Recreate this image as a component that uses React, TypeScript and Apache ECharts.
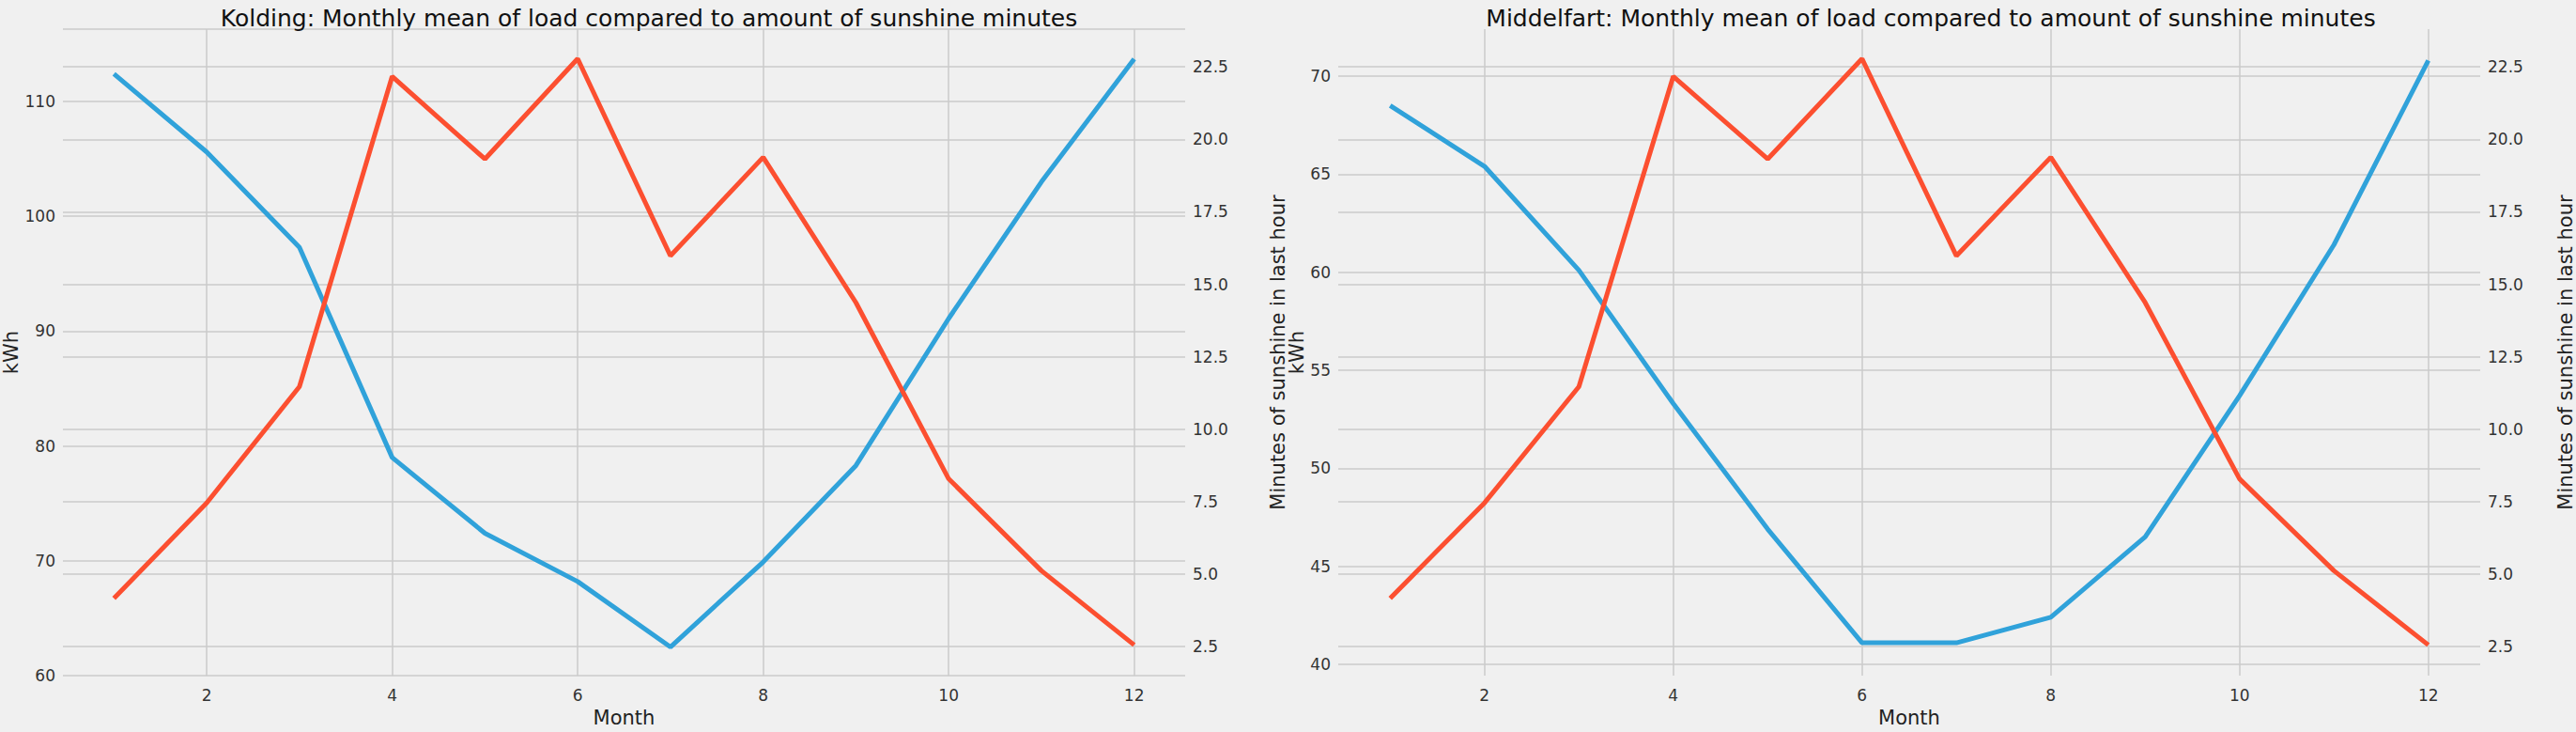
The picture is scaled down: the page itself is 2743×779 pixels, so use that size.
import React, { useEffect, useRef } from "react";
import * as echarts from "echarts";

const months = [1, 2, 3, 4, 5, 6, 7, 8, 9, 10, 11, 12];
const koldingLoad = [112.4, 105.6, 97.3, 79.0, 72.4, 68.2, 62.5, 69.9, 78.3, 91.1, 103.0, 113.7];
const middelfartLoad = [68.5, 65.4, 60.1, 53.3, 46.9, 41.1, 41.1, 42.4, 46.5, 53.7, 61.4, 70.8];
const sunshine = [4.17, 7.46, 11.47, 22.17, 19.32, 22.78, 15.98, 19.38, 14.37, 8.29, 5.12, 2.56];
const monthTicks = [2, 4, 6, 8, 10, 12];
const sunTicks = [2.5, 5, 7.5, 10, 12.5, 15, 17.5, 20, 22.5];
const middelfartTicks = [40, 45, 50, 55, 60, 65, 70];

const BLUE = "#30a2da";
const RED = "#fc4f30";
const GRID = "#cbcbcb";
const FONT = "DejaVu Sans";

const App: React.FC = () => {
    const chartRef = useRef<HTMLDivElement>(null);

    useEffect(() => {
        document.body.style.margin = "0";
        if (!chartRef.current) return;
        const chart = echarts.init(chartRef.current, undefined, { renderer: "svg" });

        const label = { color: "#333", fontSize: 17, fontFamily: FONT };
        const nameStyle = { color: "#222", fontSize: 21, fontFamily: FONT };
        const split = { show: true, lineStyle: { color: GRID, width: 1.5 } };
        const titleStyle = { fontSize: 25, fontWeight: "normal" as const, color: "#111", fontFamily: FONT };

        const xAxis = (gridIndex: number) => ({
            type: "value" as const,
            gridIndex,
            min: 0.45,
            max: 12.55,
            name: "Month",
            nameLocation: "middle" as const,
            nameGap: 30,
            nameTextStyle: nameStyle,
            axisLine: { show: false },
            axisTick: { show: false, customValues: monthTicks },
            axisLabel: { ...label, customValues: monthTicks, margin: 12 },
            splitLine: split,
        });

        const sunAxis = (gridIndex: number, gap: number) => ({
            type: "value" as const,
            gridIndex,
            position: "right" as const,
            min: 1.5,
            max: 23.8,
            name: "Minutes of sunshine in last hour",
            nameLocation: "middle" as const,
            nameGap: gap,
            nameTextStyle: nameStyle,
            axisLine: { show: false },
            axisTick: { show: false, customValues: sunTicks },
            axisLabel: { ...label, customValues: sunTicks, margin: 8, formatter: (v: number) => v.toFixed(1) },
            splitLine: split,
        });

        const option: echarts.EChartsOption = {
            animation: false,
            backgroundColor: "#f0f0f0",
            title: [
                { text: "Kolding: Monthly mean of load compared to amount of sunshine minutes", left: 686, top: 2, textAlign: "center", textStyle: titleStyle },
                { text: "Middelfart: Monthly mean of load compared to amount of sunshine minutes", left: 2051, top: 2, textAlign: "center", textStyle: titleStyle },
            ],
            grid: [
                { left: 65, right: 1481, top: 31, bottom: 47 },
                { left: 1425, right: 65, top: 31, bottom: 47 },
            ],
            xAxis: [xAxis(0), xAxis(1)],
            yAxis: [
                {
                    type: "value", gridIndex: 0, min: 60, max: 116.3, interval: 10,
                    name: "kWh", nameLocation: "middle", nameGap: 45, nameTextStyle: nameStyle,
                    axisLine: { show: false }, axisTick: { show: false },
                    axisLabel: { ...label, showMaxLabel: false }, splitLine: split,
                },
                sunAxis(0, 88),
                {
                    type: "value", gridIndex: 1, min: 39.42, max: 72.4,
                    name: "kWh", nameLocation: "middle", nameGap: 34, nameTextStyle: nameStyle,
                    axisLine: { show: false }, axisTick: { show: false, customValues: middelfartTicks },
                    axisLabel: { ...label, customValues: middelfartTicks }, splitLine: split,
                },
                sunAxis(1, 80),
            ],
            series: [
                { type: "line", xAxisIndex: 0, yAxisIndex: 0, data: months.map((m, i) => [m, koldingLoad[i]]), showSymbol: false, lineStyle: { color: BLUE, width: 5 }, itemStyle: { color: BLUE } },
                { type: "line", xAxisIndex: 0, yAxisIndex: 1, data: months.map((m, i) => [m, sunshine[i]]), showSymbol: false, lineStyle: { color: RED, width: 5 }, itemStyle: { color: RED } },
                { type: "line", xAxisIndex: 1, yAxisIndex: 2, data: months.map((m, i) => [m, middelfartLoad[i]]), showSymbol: false, lineStyle: { color: BLUE, width: 5 }, itemStyle: { color: BLUE } },
                { type: "line", xAxisIndex: 1, yAxisIndex: 3, data: months.map((m, i) => [m, sunshine[i]]), showSymbol: false, lineStyle: { color: RED, width: 5 }, itemStyle: { color: RED } },
            ],
        };

        chart.setOption(option);
        return () => chart.dispose();
    }, []);

    return <div ref={chartRef} style={{ width: 2743, height: 779 }} />;
};

export default App;
